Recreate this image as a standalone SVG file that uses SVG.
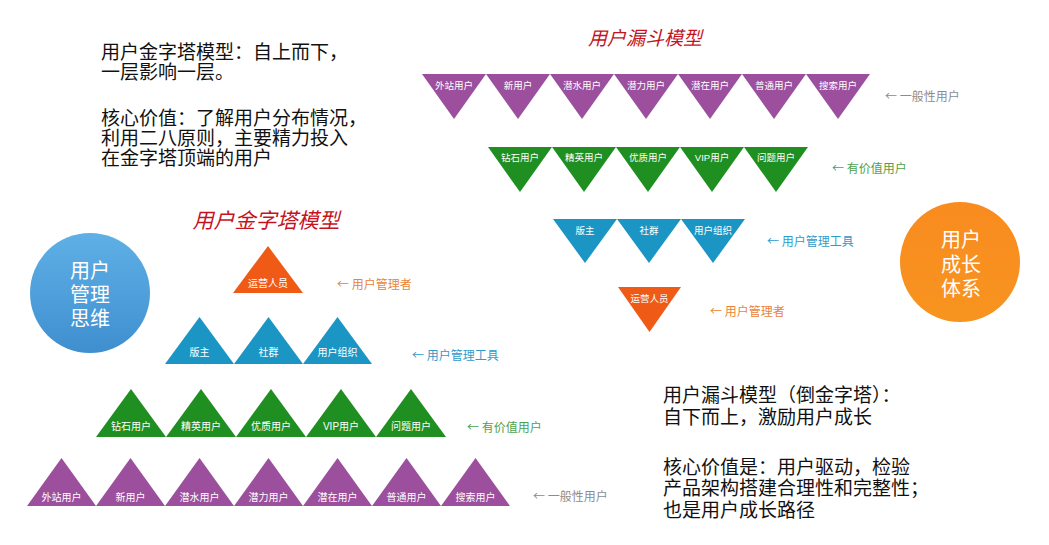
<svg xmlns="http://www.w3.org/2000/svg" width="1049" height="545" viewBox="0 0 1049 545">
<defs>
<style>
.bg{fill:#ffffff}
.pu{fill:#9c4f9d}
.gr{fill:#1f8f22}
.bl{fill:#1b96c4}
.or{fill:#ef5b17}
.tl{font-family:"Liberation Sans","Noto Sans CJK SC",sans-serif;fill:#ffffff;text-anchor:middle}
.tr{font-size:9.5px}
.tp{font-size:10px}
.lab{font-family:"Noto Sans CJK SC",sans-serif;font-size:12px}
.lpu{fill:#8e8a90}
.lgr{fill:#4ea24a}
.lbl{fill:#2f9bca}
.lor{fill:#e8843c}
.body{font-family:"Liberation Serif","Noto Sans CJK SC",serif;font-size:19px;fill:#111111}
.ttl{font-family:"Noto Sans CJK SC",sans-serif;fill:#c4141f;font-style:italic}
.ct{font-family:"Liberation Sans","Noto Sans CJK SC",sans-serif;font-size:20px;fill:#ffffff;text-anchor:middle}
</style>
<linearGradient id="gBlue" x1="0" y1="0" x2="0" y2="1">
<stop offset="0" stop-color="#5fb0e6"/>
<stop offset="1" stop-color="#3f8fd0"/>
</linearGradient>
<linearGradient id="gOr" x1="0" y1="0" x2="0" y2="1">
<stop offset="0" stop-color="#f98b1f"/>
<stop offset="1" stop-color="#f7941f"/>
</linearGradient>
</defs>
<rect class="bg" x="0" y="0" width="1049" height="545"/>

<g id="connectors"/>

<g id="text-pyramid">
<text class="body" x="101" y="59">用户金字塔模型：自上而下，</text>
<text class="body" x="101" y="79">一层影响一层。</text>
<text class="body" x="101" y="125">核心价值：了解用户分布情况，</text>
<text class="body" x="101" y="145">利用二八原则，主要精力投入</text>
<text class="body" x="101" y="165">在金字塔顶端的用户</text>
</g>
<g id="text-funnel">
<text class="body" x="663" y="402">用户漏斗模型（倒金字塔）：</text>
<text class="body" x="663" y="424">自下而上，激励用户成长</text>
<text class="body" x="663" y="474">核心价值是：用户驱动，检验</text>
<text class="body" x="663" y="495">产品架构搭建合理性和完整性；</text>
<text class="body" x="663" y="517">也是用户成长路径</text>
</g>

<g id="title-funnel"><text class="ttl" x="645" y="45" font-size="19" text-anchor="middle">用户漏斗模型</text></g>
<g id="title-pyramid"><text class="ttl" x="266" y="228" font-size="21" text-anchor="middle">用户金字塔模型</text></g>

<g id="circle-manage">
<circle cx="90" cy="293" r="60" fill="url(#gBlue)"/>
<text class="ct" x="90" y="278">用户</text>
<text class="ct" x="90" y="302">管理</text>
<text class="ct" x="90" y="326">思维</text>
</g>
<g id="circle-growth">
<circle cx="960" cy="262" r="60" fill="url(#gOr)"/>
<text class="ct" x="961" y="247">用户</text>
<text class="ct" x="961" y="272">成长</text>
<text class="ct" x="961" y="296">体系</text>
</g>

<g id="funnel-general">
<g id="f-p1"><polygon class="pu" points="422,74 486,74 454,119"/><text class="tl tr" x="454" y="89">外站用户</text></g>
<g id="f-p2"><polygon class="pu" points="486,74 550,74 518,119"/><text class="tl tr" x="518" y="89">新用户</text></g>
<g id="f-p3"><polygon class="pu" points="550,74 614,74 582,119"/><text class="tl tr" x="582" y="89">潜水用户</text></g>
<g id="f-p4"><polygon class="pu" points="614,74 678,74 646,119"/><text class="tl tr" x="646" y="89">潜力用户</text></g>
<g id="f-p5"><polygon class="pu" points="678,74 742,74 710,119"/><text class="tl tr" x="710" y="89">潜在用户</text></g>
<g id="f-p6"><polygon class="pu" points="742,74 806,74 774,119"/><text class="tl tr" x="774" y="89">普通用户</text></g>
<g id="f-p7"><polygon class="pu" points="806,74 870,74 838,119"/><text class="tl tr" x="838" y="89">搜索用户</text></g>
<text class="lab lpu" x="885" y="101">← 一般性用户</text>
</g>
<g id="funnel-valuable">
<g id="f-g1"><polygon class="gr" points="488,147 552,147 520,192"/><text class="tl tr" x="520" y="161">钻石用户</text></g>
<g id="f-g2"><polygon class="gr" points="552,147 616,147 584,192"/><text class="tl tr" x="584" y="161">精英用户</text></g>
<g id="f-g3"><polygon class="gr" points="616,147 680,147 648,192"/><text class="tl tr" x="648" y="161">优质用户</text></g>
<g id="f-g4"><polygon class="gr" points="680,147 744,147 712,192"/><text class="tl tr" x="712" y="161">VIP用户</text></g>
<g id="f-g5"><polygon class="gr" points="744,147 808,147 776,192"/><text class="tl tr" x="776" y="161">问题用户</text></g>
<text class="lab lgr" x="832" y="173">← 有价值用户</text>
</g>
<g id="funnel-tools">
<g id="f-b1"><polygon class="bl" points="553,219 617,219 585,263"/><text class="tl tr" x="585" y="234">版主</text></g>
<g id="f-b2"><polygon class="bl" points="617,219 681,219 649,263"/><text class="tl tr" x="649" y="234">社群</text></g>
<g id="f-b3"><polygon class="bl" points="681,219 745,219 713,263"/><text class="tl tr" x="713" y="234">用户组织</text></g>
<text class="lab lbl" x="767" y="246">← 用户管理工具</text>
</g>
<g id="funnel-manager">
<g id="f-o1"><polygon class="or" points="618,287 681,287 649.5,332"/><text class="tl tr" x="649.5" y="302">运营人员</text></g>
<text class="lab lor" x="710" y="316">← 用户管理者</text>
</g>

<g id="pyr-manager">
<g id="p-o1"><polygon class="or" points="233,293 303,293 268,246"/><text class="tl tp" x="268" y="287">运营人员</text></g>
<text class="lab lor" x="337" y="289">← 用户管理者</text>
</g>
<g id="pyr-tools">
<g id="p-b1"><polygon class="bl" points="165,364 234,364 199.5,317"/><text class="tl tp" x="199.5" y="356">版主</text></g>
<g id="p-b2"><polygon class="bl" points="234,364 303,364 268.5,317"/><text class="tl tp" x="268.5" y="356">社群</text></g>
<g id="p-b3"><polygon class="bl" points="303,364 372,364 337.5,317"/><text class="tl tp" x="337.5" y="356">用户组织</text></g>
<text class="lab lbl" x="412" y="360">← 用户管理工具</text>
</g>
<g id="pyr-valuable">
<g id="p-g1"><polygon class="gr" points="96,437 166,437 131,389"/><text class="tl tp" x="131" y="430">钻石用户</text></g>
<g id="p-g2"><polygon class="gr" points="166,437 236,437 201,389"/><text class="tl tp" x="201" y="430">精英用户</text></g>
<g id="p-g3"><polygon class="gr" points="236,437 306,437 271,389"/><text class="tl tp" x="271" y="430">优质用户</text></g>
<g id="p-g4"><polygon class="gr" points="306,437 376,437 341,389"/><text class="tl tp" x="341" y="430">VIP用户</text></g>
<g id="p-g5"><polygon class="gr" points="376,437 446,437 411,389"/><text class="tl tp" x="411" y="430">问题用户</text></g>
<text class="lab lgr" x="467" y="432">← 有价值用户</text>
</g>
<g id="pyr-general">
<g id="p-p1"><polygon class="pu" points="27,506 96,506 61.5,458"/><text class="tl tp" x="61.5" y="501">外站用户</text></g>
<g id="p-p2"><polygon class="pu" points="96,506 165,506 130.5,458"/><text class="tl tp" x="130.5" y="501">新用户</text></g>
<g id="p-p3"><polygon class="pu" points="165,506 234,506 199.5,458"/><text class="tl tp" x="199.5" y="501">潜水用户</text></g>
<g id="p-p4"><polygon class="pu" points="234,506 303,506 268.5,458"/><text class="tl tp" x="268.5" y="501">潜力用户</text></g>
<g id="p-p5"><polygon class="pu" points="303,506 372,506 337.5,458"/><text class="tl tp" x="337.5" y="501">潜在用户</text></g>
<g id="p-p6"><polygon class="pu" points="372,506 441,506 406.5,458"/><text class="tl tp" x="406.5" y="501">普通用户</text></g>
<g id="p-p7"><polygon class="pu" points="441,506 510,506 475.5,458"/><text class="tl tp" x="475.5" y="501">搜索用户</text></g>
<text class="lab lpu" x="533" y="501">← 一般性用户</text>
</g>
</svg>
